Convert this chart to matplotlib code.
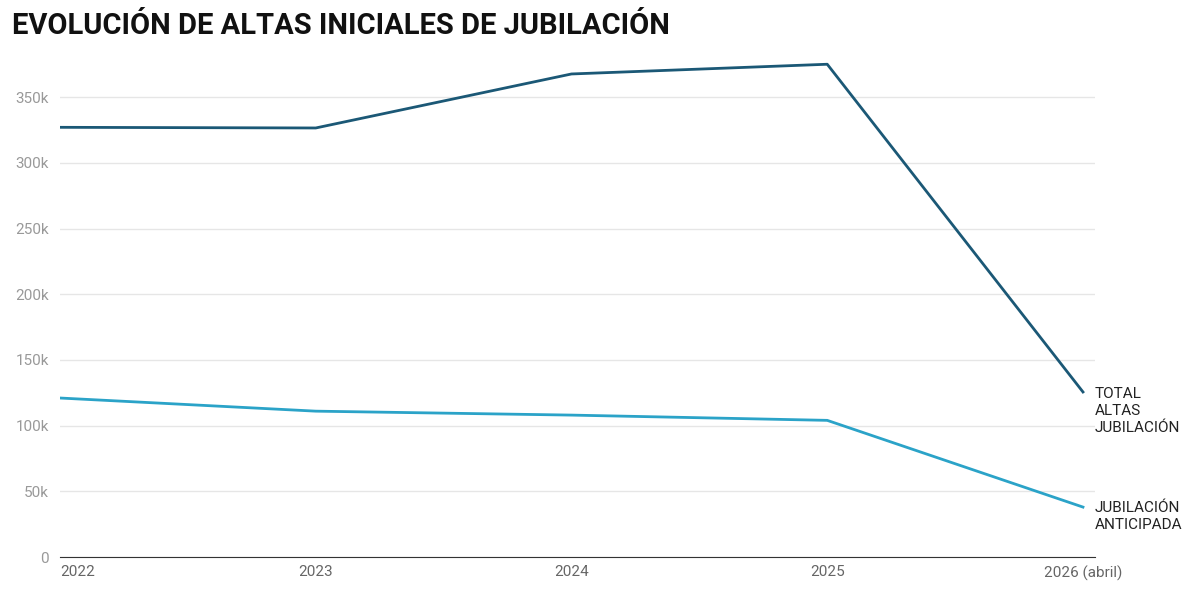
import matplotlib
matplotlib.use('Agg')
import matplotlib.pyplot as plt

# Datos
anios = ['2022', '2023', '2024', '2025', '2026 (abril)']
total_altas = [327000, 326500, 367600, 375000, 125600]
anticipada = [121000, 111000, 108000, 104000, 38000]

plt.rcParams['font.family'] = ['Roboto', 'DejaVu Sans']

fig = plt.figure(figsize=(12, 5.96), dpi=100)
ax = fig.add_axes([0.05, 0.0654, 0.8625, 0.859])

x = list(range(len(anios)))
ax.plot(x, total_altas, color='#1b5876', lw=2)
ax.plot(x, anticipada, color='#2ba3c8', lw=2)

ax.set_xlim(0, 4.047)
ax.set_ylim(0, 389600)
ax.set_yticks([0, 50000, 100000, 150000, 200000, 250000, 300000, 350000])
ax.set_yticklabels(['0', '50k', '100k', '150k', '200k', '250k', '300k', '350k'])
ax.set_xticks(x)
ax.set_xticklabels(anios)
ax.grid(axis='y', color='#e6e6e6', lw=1)
ax.set_axisbelow(True)
for s in ['top', 'right', 'left']:
    ax.spines[s].set_visible(False)
ax.spines['bottom'].set_color('#333333')
ax.tick_params(axis='y', length=0, colors='#999999', labelsize=11, pad=8)
ax.tick_params(axis='x', length=0, colors='#666666', labelsize=11, pad=6)
labs = ax.get_xticklabels()
labs[0].set_ha('left')
labs[-1].set_ha('center')

ax.text(4.047, total_altas[-1] + 4000, 'TOTAL\nALTAS\nJUBILACIÓN', fontsize=11,
        color='#222222', va='top', ha='left', linespacing=1.3, clip_on=False)
ax.text(4.047, anticipada[-1] + 5000, 'JUBILACIÓN\nANTICIPADA', fontsize=11,
        color='#222222', va='top', ha='left', linespacing=1.3, clip_on=False)

fig.text(0.01, 0.957, 'EVOLUCIÓN DE ALTAS INICIALES DE JUBILACIÓN', fontsize=21,
         fontweight='bold', color='#111111', va='center', ha='left')

fig.savefig('out.png', dpi=100)
